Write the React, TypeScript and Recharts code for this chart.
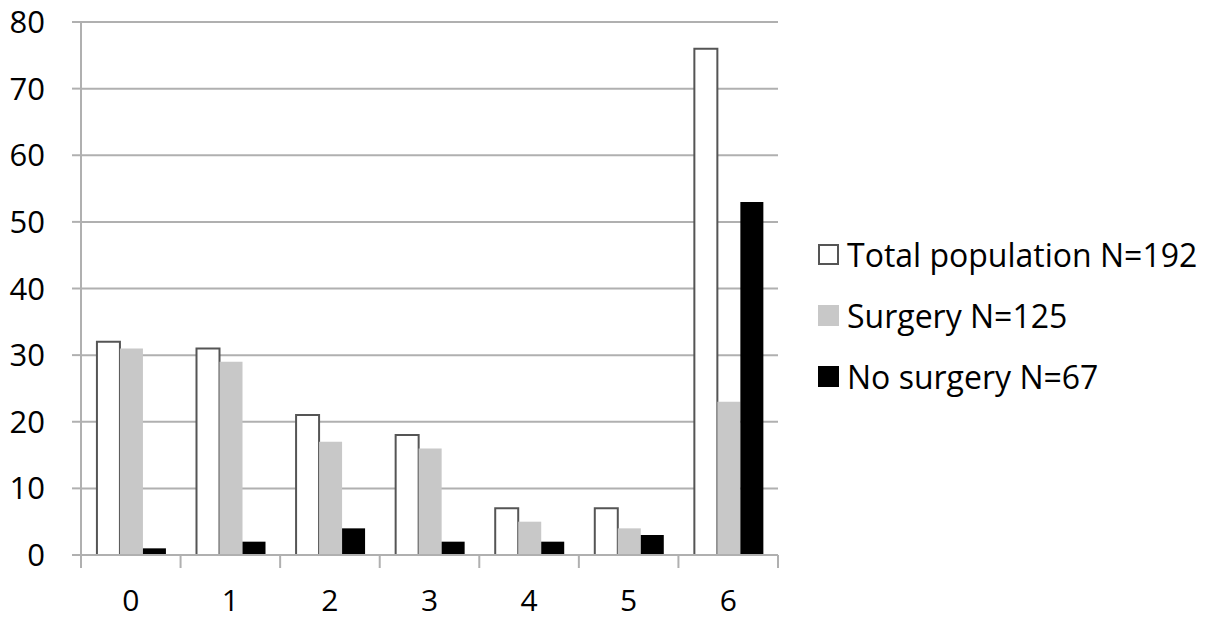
import React from "react";
import { BarChart, Bar, XAxis, YAxis, CartesianGrid, Legend } from "recharts";

const categories = ["0", "1", "2", "3", "4", "5", "6"];
const totalPopulation = [32, 31, 21, 18, 7, 7, 76];
const surgery = [31, 29, 17, 16, 5, 4, 23];
const noSurgery = [1, 2, 4, 2, 2, 3, 53];
const yTicks = [0, 10, 20, 30, 40, 50, 60, 70, 80];

const series = [
  { key: "total", name: "Total population N=192", fill: "#ffffff", stroke: "#555555" },
  { key: "surgery", name: "Surgery N=125", fill: "#c8c8c8", stroke: "none" },
  { key: "noSurgery", name: "No surgery N=67", fill: "#000000", stroke: "none" },
];

const data = categories.map((c, i) => ({
  category: c,
  total: totalPopulation[i],
  surgery: surgery[i],
  noSurgery: noSurgery[i],
}));

const FONT = "'Open Sans', sans-serif";
const GRID = "#b0b0b0";

// label plus the boundary tick marks between categories (Excel style)
const CategoryTick = (props: any) => {
  const { x, y, payload, index, visibleTicksCount } = props;
  const half = payload?.offset ?? 0;
  const isLast = index === visibleTicksCount - 1;
  return (
    <g>
      <line x1={x - half} x2={x - half} y1={y} y2={y + 13} stroke={GRID} strokeWidth={2} />
      {isLast && (
        <line x1={x + half} x2={x + half} y1={y} y2={y + 13} stroke={GRID} strokeWidth={2} />
      )}
      <text x={x} y={y + 56} textAnchor="middle" fill="#000" fontSize={30} fontFamily={FONT}>
        {payload.value}
      </text>
    </g>
  );
};

const LegendBox = () => (
  <div style={{ fontFamily: FONT, fontSize: 32, color: "#000" }}>
    {series.map((s) => (
      <div key={s.key} style={{ display: "flex", alignItems: "center", height: 61 }}>
        <span
          style={{
            display: "inline-block",
            width: 21,
            height: 21,
            marginRight: 8,
            background: s.fill,
            boxSizing: "border-box",
            border: s.stroke === "none" ? "none" : `2px solid ${s.stroke}`,
          }}
        />
        <span>{s.name}</span>
      </div>
    ))}
  </div>
);

export default function App() {
  return (
    <div style={{ position: "absolute", left: 0, top: 0, background: "#fff" }}>
      <BarChart
        width={1208}
        height={619}
        data={data}
        margin={{ top: 22, right: 430, bottom: 0, left: 0 }}
        barCategoryGap="16%"
        barGap={0}
      >
        <CartesianGrid vertical={false} stroke={GRID} strokeWidth={2} />
        <XAxis
          dataKey="category"
          height={64}
          interval={0}
          axisLine={{ stroke: GRID, strokeWidth: 2 }}
          tickLine={false}
          tickSize={0}
          tickMargin={0}
          tick={<CategoryTick />}
        />
        <YAxis
          width={81}
          domain={[0, 80]}
          ticks={yTicks}
          interval={0}
          tickSize={9}
          tickMargin={27}
          axisLine={{ stroke: GRID, strokeWidth: 2 }}
          tickLine={{ stroke: GRID, strokeWidth: 2 }}
          tick={{ fill: "#000", fontSize: 31, fontFamily: FONT }}
        />
        <Legend
          layout="vertical"
          align="center"
          verticalAlign="middle"
          content={<LegendBox />}
          wrapperStyle={{ left: 818, top: 224, width: 390 }}
        />
        {series.map((s) => (
          <Bar
            key={s.key}
            dataKey={s.key}
            name={s.name}
            fill={s.fill}
            stroke={s.stroke}
            strokeWidth={s.stroke === "none" ? 0 : 2}
            isAnimationActive={false}
          />
        ))}
      </BarChart>
    </div>
  );
}
